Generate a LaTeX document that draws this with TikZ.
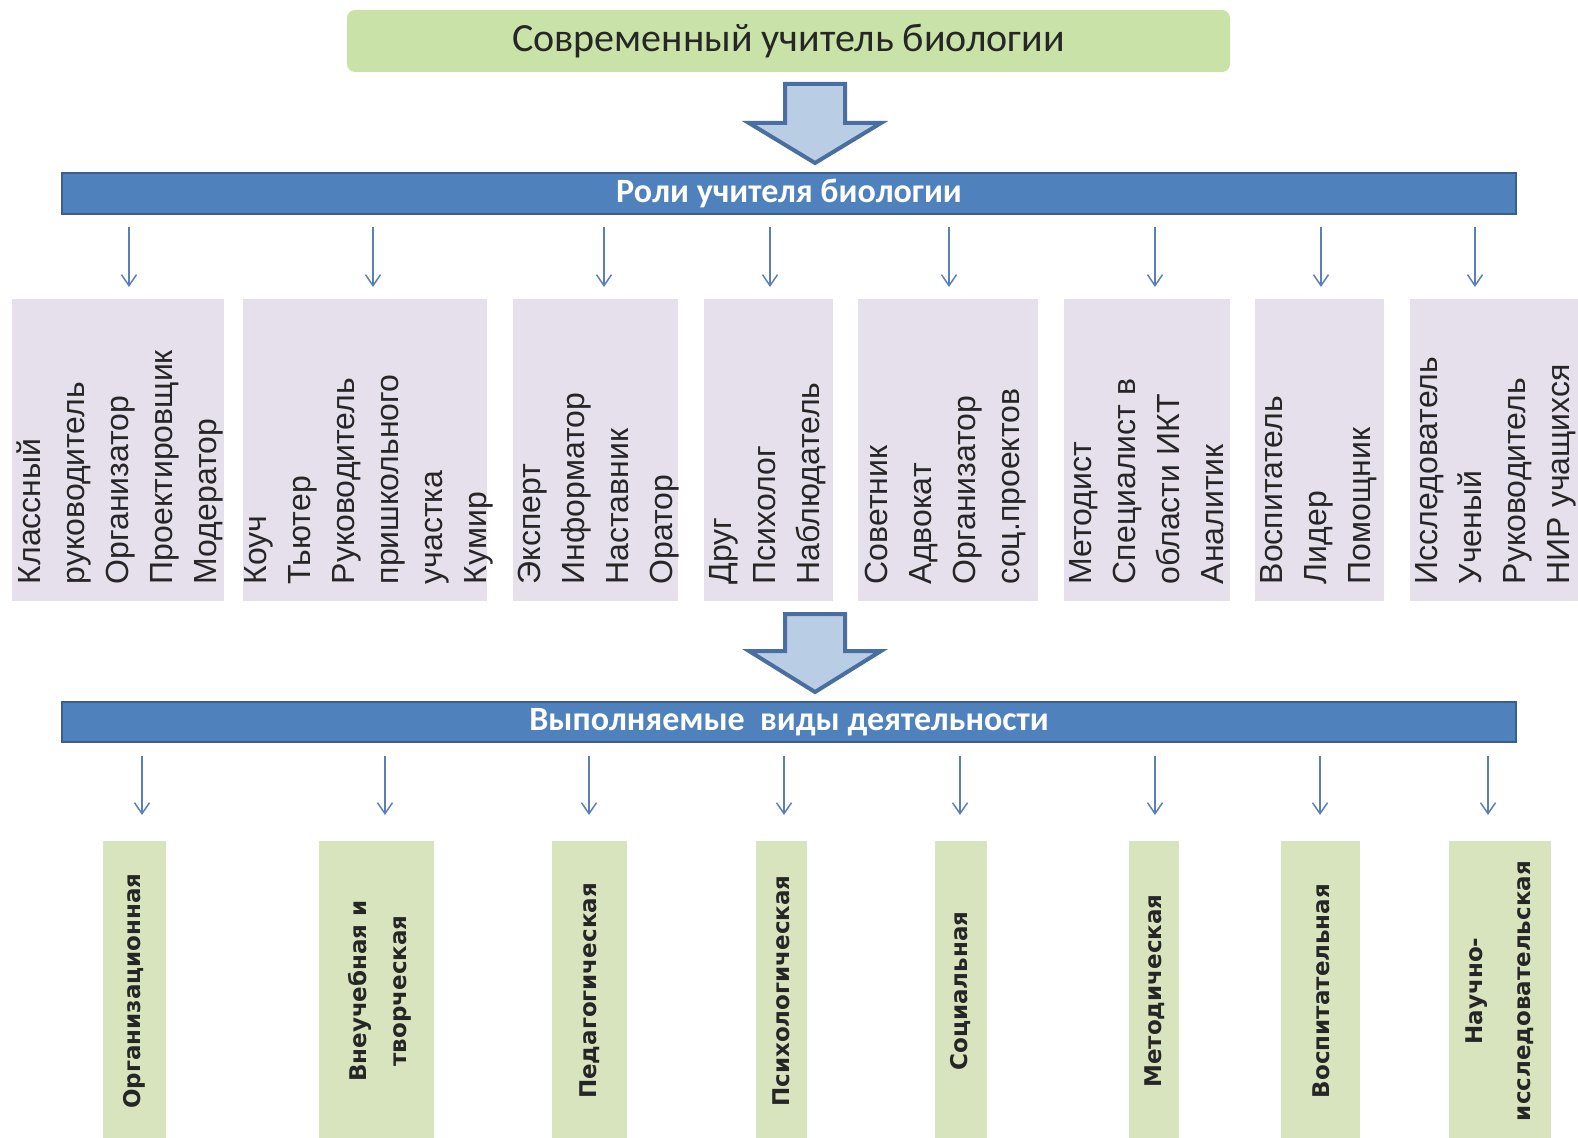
\documentclass[tikz,border=0pt]{standalone}
\usepackage{fontspec}
\setmainfont{Liberation Sans}
\newfontfamily\calibri{Carlito}
\newfontfamily\dejavu{DejaVu Sans}
\usetikzlibrary{arrows.meta,positioning,calc}
\definecolor{topgreen}{HTML}{C8E2A8}
\definecolor{actgreen}{HTML}{D7E4BD}
\definecolor{lavender}{HTML}{E5E0EC}
\definecolor{barblue}{HTML}{4F81BD}
\definecolor{bardark}{HTML}{3A5F8F}
\definecolor{arrowfill}{HTML}{B9CDE5}
\definecolor{arrowline}{HTML}{4A6E9F}
\definecolor{thinblue}{HTML}{5B80B8}

\begin{document}
\begin{tikzpicture}[x=1pt, y=-1pt, >={Straight Barb[length=11pt,width=15pt]}]
\tikzstyle{topbox}=[rectangle, rounded corners=8pt, fill=topgreen, minimum width=883pt, minimum height=62pt, font=\calibri\fontsize{40pt}{48pt}\selectfont, text=black!85]
\tikzstyle{bar}=[rectangle, fill=barblue, draw=bardark, line width=2pt, minimum width=1454pt, text=white, font=\calibri\bfseries\fontsize{34pt}{40pt}\selectfont]
\tikzstyle{bigarrow}=[fill=arrowfill, draw=arrowline, line width=4pt, line join=miter]
\tikzstyle{rolebox}=[rectangle, fill=lavender, anchor=north west, minimum height=302pt]
\tikzstyle{roletext}=[rotate=90, anchor=north west, align=left, inner sep=0pt, font=\fontsize{32pt}{44pt}\selectfont, text=black!85, execute at begin node={\rule{0pt}{30pt}}]
\tikzstyle{actbox}=[rectangle, fill=actgreen, anchor=north west, minimum height=320pt]
\tikzstyle{acttext}=[rotate=90, align=center, inner sep=0pt, font=\dejavu\bfseries\fontsize{23pt}{40pt}\selectfont, text=black!85]
\tikzstyle{thinarrow}=[->, draw=thinblue, line width=1.5pt]
\useasboundingbox (0,0) rectangle (1578,1137);
\clip (0,0) rectangle (1578,1137);

\node[topbox] (T) at (788.5,41) {Современный учитель биологии};
\coordinate (A1) at (815,84);
\draw[bigarrow] (A1) ++(-30,0) -- ++(60,0) -- ++(0,39) -- ++(36,0) -- ++(-66,40) -- ++(-66,-40) -- ++(36,0) -- cycle;
\node[bar, minimum height=41pt] (R) at (789,193) {Роли учителя биологии};

% roles
\node[rolebox, minimum width=212pt] (R1) at (12,299) {};
\node[rolebox, minimum width=244pt] (R2) at (243,299) {};
\node[rolebox, minimum width=165pt] (R3) at (513,299) {};
\node[rolebox, minimum width=129pt] (R4) at (704,299) {};
\node[rolebox, minimum width=180pt] (R5) at (858,299) {};
\node[rolebox, minimum width=166pt] (R6) at (1064,299) {};
\node[rolebox, minimum width=129pt] (R7) at (1255,299) {};
\node[rolebox, minimum width=190pt] (R8) at (1410,299) {};
\node[roletext] (L1) at ([shift={(5,-17)}]R1.south west) {Классный\\руководитель\\Организатор\\Проектировщик\\Модератор};
\node[roletext] (L2) at ([shift={(1,-17)}]R2.south west) {Коуч\\Тьютер\\Руководитель\\пришкольного\\участка\\Кумир};
\node[roletext] (L3) at ([shift={(5,-17)}]R3.south west) {Эксперт\\Информатор\\Наставник\\Оратор};
\node[roletext] (L4) at ([shift={(5,-17)}]R4.south west) {Друг\\Психолог\\Наблюдатель};
\node[roletext] (L5) at ([shift={(7,-17)}]R5.south west) {Советник\\Адвокат\\Организатор\\соц.проектов};
\node[roletext] (L6) at ([shift={(5,-17)}]R6.south west) {Методист\\Специалист в\\области ИКТ\\Аналитик};
\node[roletext] (L7) at ([shift={(5,-17)}]R7.south west) {Воспитатель\\Лидер\\Помощник};
\node[roletext] (L8) at ([shift={(5,-17)}]R8.south west) {Исследователь\\Ученый\\Руководитель\\НИР учащихся};
\path (129,0 |- R.south) edge[thinarrow, shorten <=12pt, shorten >=12pt] (129,0 |- R1.north)
      (373,0 |- R.south) edge[thinarrow, shorten <=12pt, shorten >=12pt] (373,0 |- R2.north)
      (604,0 |- R.south) edge[thinarrow, shorten <=12pt, shorten >=12pt] (604,0 |- R3.north)
      (770,0 |- R.south) edge[thinarrow, shorten <=12pt, shorten >=12pt] (770,0 |- R4.north)
      (949,0 |- R.south) edge[thinarrow, shorten <=12pt, shorten >=12pt] (949,0 |- R5.north)
      (1155,0 |- R.south) edge[thinarrow, shorten <=12pt, shorten >=12pt] (1155,0 |- R6.north)
      (1321,0 |- R.south) edge[thinarrow, shorten <=12pt, shorten >=12pt] (1321,0 |- R7.north)
      (1475,0 |- R.south) edge[thinarrow, shorten <=12pt, shorten >=12pt] (1475,0 |- R8.north);

\coordinate (A2) at (815,614);
\draw[bigarrow] (A2) ++(-30,0) -- ++(60,0) -- ++(0,37) -- ++(36,0) -- ++(-66,41) -- ++(-66,-41) -- ++(36,0) -- cycle;
\node[bar, minimum height=40pt] (V) at (789,722) {Выполняемые~ виды деятельности};

% activities
\node[actbox, minimum width=63pt] (D1) at (103,841) {};
\node[actbox, minimum width=115pt] (D2) at (319,841) {};
\node[actbox, minimum width=75pt] (D3) at (552,841) {};
\node[actbox, minimum width=51pt] (D4) at (756,841) {};
\node[actbox, minimum width=52pt] (D5) at (935,841) {};
\node[actbox, minimum width=50pt] (D6) at (1129,841) {};
\node[actbox, minimum width=79pt] (D7) at (1281,841) {};
\node[actbox, minimum width=102pt] (D8) at (1449,841) {};
\node[acttext] (N1) at (134,991) {Организационная};
\node[acttext] (N2) at (380,991) {Внеучебная и\\творческая};
\node[acttext] (N3) at (590,991) {Педагогическая};
\node[acttext] (N4) at (781,991) {Психологическая};
\node[acttext] (N5) at (961,991) {Социальная};
\node[acttext] (N6) at (1155,991) {Методическая};
\node[acttext] (N7) at (1321,991) {Воспитательная};
\node[acttext, font=\dejavu\bfseries\fontsize{23pt}{48pt}\selectfont] (N8) at (1500,991) {Научно-\\исследовательская};
\path (142,0 |- V.south) edge[thinarrow, shorten <=13pt, shorten >=26pt] (142,0 |- D1.north)
      (385,0 |- V.south) edge[thinarrow, shorten <=13pt, shorten >=26pt] (385,0 |- D2.north)
      (589,0 |- V.south) edge[thinarrow, shorten <=13pt, shorten >=26pt] (589,0 |- D3.north)
      (784,0 |- V.south) edge[thinarrow, shorten <=13pt, shorten >=26pt] (784,0 |- D4.north)
      (960,0 |- V.south) edge[thinarrow, shorten <=13pt, shorten >=26pt] (960,0 |- D5.north)
      (1155,0 |- V.south) edge[thinarrow, shorten <=13pt, shorten >=26pt] (1155,0 |- D6.north)
      (1320,0 |- V.south) edge[thinarrow, shorten <=13pt, shorten >=26pt] (1320,0 |- D7.north)
      (1488,0 |- V.south) edge[thinarrow, shorten <=13pt, shorten >=26pt] (1488,0 |- D8.north);
\end{tikzpicture}
\end{document}
